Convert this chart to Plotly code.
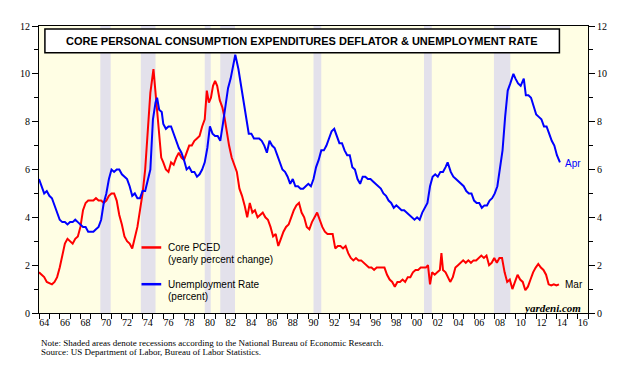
import plotly.graph_objects as go

# ---------------- data ----------------
unemp_t = [1964.0, 1964.25, 1964.5, 1964.75, 1965.0, 1965.25, 1965.5, 1965.75, 1966.0, 1966.25, 1966.5, 1966.75,
           1967.0, 1967.25, 1967.5, 1967.75, 1968.0, 1968.25, 1968.5, 1968.75, 1969.0, 1969.25, 1969.5, 1969.75,
           1970.0, 1970.25, 1970.5, 1970.75, 1971.0, 1971.25, 1971.5, 1971.75, 1972.0, 1972.25, 1972.5, 1972.75,
           1973.0, 1973.25, 1973.5, 1973.75, 1974.0, 1974.25, 1974.5, 1974.75, 1975.0, 1975.25, 1975.4, 1975.6,
           1975.85, 1976.0, 1976.25, 1976.5, 1976.75, 1977.0, 1977.25, 1977.5, 1977.75, 1978.0, 1978.25, 1978.5,
           1978.75, 1979.0, 1979.25, 1979.5, 1979.75, 1980.0, 1980.25, 1980.5, 1980.75, 1981.0, 1981.25, 1981.5,
           1981.75, 1982.0, 1982.25, 1982.5, 1982.75, 1982.95, 1983.25, 1983.5, 1983.75, 1984.0, 1984.25, 1984.5,
           1984.75, 1985.0, 1985.25, 1985.5, 1985.75, 1986.0, 1986.25, 1986.5, 1986.75, 1987.0, 1987.25, 1987.5,
           1987.75, 1988.0, 1988.25, 1988.5, 1988.75, 1989.0, 1989.25, 1989.5, 1989.75, 1990.0, 1990.25, 1990.5,
           1990.75, 1991.0, 1991.25, 1991.5, 1991.75, 1992.0, 1992.25, 1992.5, 1992.75, 1993.0, 1993.25, 1993.5,
           1993.75, 1994.0, 1994.25, 1994.5, 1994.75, 1995.0, 1995.25, 1995.5, 1995.75, 1996.0, 1996.25, 1996.5,
           1996.75, 1997.0, 1997.25, 1997.5, 1997.75, 1998.0, 1998.25, 1998.5, 1998.75, 1999.0, 1999.25, 1999.5,
           1999.75, 2000.0, 2000.25, 2000.5, 2000.75, 2001.0, 2001.25, 2001.5, 2001.75, 2002.0, 2002.25, 2002.5,
           2002.75, 2003.0, 2003.25, 2003.45, 2003.75, 2004.0, 2004.25, 2004.5, 2004.75, 2005.0, 2005.25, 2005.5,
           2005.75, 2006.0, 2006.25, 2006.5, 2006.75, 2007.0, 2007.25, 2007.5, 2007.75, 2008.0, 2008.25, 2008.5,
           2008.75, 2009.0, 2009.25, 2009.5, 2009.8, 2010.0, 2010.25, 2010.5, 2010.8, 2011.0, 2011.25, 2011.5,
           2011.75, 2012.0, 2012.25, 2012.5, 2012.75, 2013.0, 2013.25, 2013.5, 2013.75, 2014.0, 2014.29]
unemp_v = [5.6, 5.3, 5.0, 5.1, 4.9, 4.8, 4.5, 4.2, 3.9, 3.8, 3.8, 3.7,
           3.8, 3.8, 3.9, 3.8, 3.7, 3.6, 3.6, 3.4, 3.4, 3.4, 3.5, 3.6,
           3.9, 4.6, 5.0, 5.6, 6.0, 5.9, 6.0, 6.0, 5.8, 5.7, 5.6, 5.3,
           4.9, 5.0, 4.8, 4.8, 5.1, 5.1, 5.5, 6.0, 8.1, 8.8, 9.0, 8.5,
           8.4, 7.9, 7.7, 7.8, 7.8, 7.5, 7.2, 6.9, 6.7, 6.4, 6.0, 6.1,
           5.9, 5.9, 5.7, 5.8, 6.0, 6.3, 6.9, 7.8, 7.5, 7.4, 7.4, 7.2,
           7.9, 8.6, 9.4, 9.8, 10.4, 10.8, 10.2, 9.5, 8.8, 8.0, 7.5, 7.5,
           7.3, 7.3, 7.3, 7.2, 7.0, 6.7, 7.2, 7.0, 6.9, 6.6, 6.3, 6.0,
           5.9, 5.7, 5.4, 5.6, 5.3, 5.3, 5.2, 5.2, 5.3, 5.4, 5.3, 5.6,
           6.1, 6.4, 6.8, 6.8, 7.0, 7.3, 7.6, 7.7, 7.4, 7.1, 7.1, 6.8,
           6.6, 6.6, 6.1, 6.0, 5.6, 5.4, 5.7, 5.7, 5.6, 5.6, 5.5, 5.4,
           5.3, 5.2, 5.0, 4.9, 4.7, 4.6, 4.4, 4.5, 4.4, 4.3, 4.3, 4.2,
           4.1, 4.0, 3.9, 4.0, 3.9, 4.2, 4.4, 4.6, 5.3, 5.7, 5.8, 5.7,
           5.9, 5.9, 6.1, 6.3, 5.9, 5.7, 5.6, 5.5, 5.4, 5.3, 5.1, 5.0,
           5.0, 4.7, 4.6, 4.6, 4.4, 4.5, 4.5, 4.7, 4.8, 5.0, 5.3, 6.0,
           6.8, 8.2, 9.3, 9.6, 10.0, 9.8, 9.6, 9.5, 9.8, 9.1, 9.1, 9.0,
           8.6, 8.3, 8.2, 8.1, 7.8, 7.8, 7.5, 7.2, 7.0, 6.6, 6.3]

pced_t = [1964.0, 1964.25, 1964.5, 1964.75, 1965.0, 1965.25, 1965.5, 1965.75, 1966.0, 1966.25, 1966.5, 1966.75,
          1967.0, 1967.25, 1967.5, 1967.75, 1968.0, 1968.25, 1968.5, 1968.75, 1969.0, 1969.25, 1969.5, 1969.75,
          1970.0, 1970.25, 1970.5, 1970.75, 1971.0, 1971.25, 1971.5, 1971.75, 1972.0, 1972.25, 1972.5, 1972.75,
          1973.0, 1973.25, 1973.5, 1973.75, 1974.0, 1974.25, 1974.5, 1974.75, 1975.05, 1975.3, 1975.55, 1975.8,
          1976.0, 1976.25, 1976.5, 1976.75, 1977.0, 1977.25, 1977.5, 1977.75, 1978.0, 1978.25, 1978.5, 1978.75,
          1979.0, 1979.25, 1979.5, 1979.75, 1980.0, 1980.2, 1980.4, 1980.6, 1980.8, 1981.0, 1981.2, 1981.45,
          1981.7, 1981.9, 1982.1, 1982.35, 1982.6, 1982.85, 1983.1, 1983.35, 1983.6, 1983.85, 1984.1, 1984.35,
          1984.6, 1984.85, 1985.1, 1985.35, 1985.6, 1985.85, 1986.1, 1986.35, 1986.6, 1986.85, 1987.1, 1987.35,
          1987.6, 1987.85, 1988.1, 1988.35, 1988.6, 1988.85, 1989.1, 1989.35, 1989.6, 1989.85, 1990.1, 1990.35,
          1990.6, 1990.85, 1991.1, 1991.35, 1991.6, 1991.85, 1992.1, 1992.35, 1992.6, 1992.85, 1993.1, 1993.35,
          1993.6, 1993.85, 1994.1, 1994.35, 1994.6, 1994.85, 1995.1, 1995.35, 1995.6, 1995.85, 1996.1, 1996.35,
          1996.6, 1996.85, 1997.1, 1997.35, 1997.6, 1997.85, 1998.1, 1998.35, 1998.6, 1998.85, 1999.1, 1999.35,
          1999.6, 1999.85, 2000.1, 2000.35, 2000.6, 2000.85, 2001.1, 2001.35, 2001.55, 2001.75, 2001.95, 2002.2,
          2002.45, 2002.7, 2002.85, 2003.0, 2003.25, 2003.5, 2003.7, 2003.95, 2004.2, 2004.45, 2004.7, 2004.95,
          2005.2, 2005.45, 2005.7, 2005.95, 2006.2, 2006.45, 2006.7, 2006.95, 2007.2, 2007.45, 2007.7, 2007.95,
          2008.2, 2008.45, 2008.7, 2008.95, 2009.2, 2009.45, 2009.7, 2009.95, 2010.2, 2010.45, 2010.7, 2010.95,
          2011.2, 2011.45, 2011.7, 2011.95, 2012.2, 2012.45, 2012.7, 2012.95, 2013.2, 2013.45, 2013.7, 2013.95,
          2014.2]
pced_v = [1.7, 1.6, 1.5, 1.3, 1.25, 1.2, 1.3, 1.5, 1.9, 2.4, 2.9, 3.1,
          3.0, 2.9, 3.1, 3.2, 3.6, 4.3, 4.6, 4.7, 4.7, 4.7, 4.8, 4.7,
          4.7, 4.6, 4.7, 4.9, 5.0, 5.0, 4.7, 4.1, 3.7, 3.2, 3.0, 2.9,
          2.7, 3.1, 3.6, 4.3, 5.0, 6.0, 7.5, 9.2, 10.2, 9.0, 7.6, 6.5,
          6.3, 6.0, 5.9, 6.3, 6.2, 6.5, 6.7, 6.5, 6.4, 6.7, 7.0, 7.0,
          7.2, 7.3, 7.4, 7.8, 8.1, 9.3, 8.8, 9.0, 9.5, 9.7, 9.5, 8.9,
          8.6, 8.2, 7.6, 7.0, 6.5, 6.2, 5.9, 5.2, 4.9, 4.5, 4.0, 4.6,
          4.2, 4.3, 4.0, 4.1, 4.2, 4.0, 3.9, 3.6, 3.2, 3.3, 2.8, 3.1,
          3.4, 3.6, 3.7, 4.0, 4.3, 4.5, 4.6, 4.2, 4.0, 3.6, 3.5, 3.8,
          4.0, 4.2, 3.9, 3.6, 3.4, 3.3, 3.3, 3.3, 2.7, 2.8, 2.8, 2.7,
          2.8, 2.5, 2.3, 2.2, 2.3, 2.2, 2.2, 2.1, 2.0, 1.9, 1.9, 1.8,
          1.9, 1.9, 1.9, 1.9, 1.6, 1.4, 1.3, 1.1, 1.3, 1.3, 1.4, 1.3,
          1.5, 1.5, 1.7, 1.8, 1.8, 1.9, 1.9, 1.9, 2.0, 1.2, 1.7, 1.6,
          1.7, 1.8, 2.5, 1.8, 1.7, 1.5, 1.3, 1.5, 1.9, 2.0, 2.1, 2.2,
          2.1, 2.2, 2.1, 2.2, 2.2, 2.3, 2.4, 2.3, 2.4, 2.0, 2.1, 2.3,
          2.1, 2.3, 2.3, 1.7, 1.3, 1.4, 1.0, 1.3, 1.6, 1.4, 1.3, 0.95,
          1.1, 1.4, 1.7, 1.9, 2.05, 1.9, 1.8, 1.6, 1.2, 1.15, 1.2, 1.15,
          1.2]

rec_start = [1969.92, 1973.83, 1980.0, 1981.5, 1990.5, 2001.17, 2007.92]
rec_end = [1970.92, 1975.25, 1980.58, 1982.92, 1991.25, 2001.92, 2009.5]

year_ticks = list(range(1964, 2018))
label_vals = [y + 0.5 for y in range(1964, 2017, 2)]
label_text = ["%02d" % (y % 100) for y in range(1964, 2017, 2)]
y_ticks = [0, 2, 4, 6, 8, 10, 12]

RED = "#FF0000"
BLUE = "#0000FF"
SERIF = "Liberation Serif"
SANS = "Liberation Sans"

# page is rendered with an 8px body margin; plot area in page pixels: x 31..588, y 24..313
OFF = 8
W, H = 640 - OFF, 369 - OFF

fig = go.Figure()
fig.add_trace(go.Scatter(x=pced_t, y=pced_v, mode="lines", line=dict(color=RED, width=2),
                         showlegend=False, hoverinfo="skip"))
fig.add_trace(go.Scatter(x=unemp_t, y=unemp_v, mode="lines", line=dict(color=BLUE, width=2),
                         showlegend=False, hoverinfo="skip", yaxis="y2"))

for s, e in zip(rec_start, rec_end):
    fig.add_shape(type="rect", xref="x", yref="paper", x0=s, x1=e, y0=0, y1=1,
                  fillcolor="#E3E1EB", line_width=0, layer="below")


def px_x(p):
    return (p - 31) / 557.0


def px_y(p):
    return (313 - p) / 289.0


# title box
fig.add_shape(type="rect", xref="paper", yref="paper", x0=px_x(37), x1=px_x(559), y0=px_y(51), y1=px_y(27),
              fillcolor="white", line=dict(color="black", width=1.5), layer="above")
fig.add_annotation(xref="paper", yref="paper", x=px_x(298), y=px_y(39), xanchor="center", yanchor="middle",
                   text="<b>CORE PERSONAL CONSUMPTION EXPENDITURES DEFLATOR &amp; UNEMPLOYMENT RATE</b>",
                   showarrow=False, font=dict(family=SANS, size=11, color="black"))

# custom legend
for col, yy, l1, l2 in [(RED, 247, "Core PCED", "(yearly percent change)"),
                        (BLUE, 284, "Unemployment Rate", "(percent)")]:
    fig.add_shape(type="line", xref="paper", yref="paper", x0=px_x(135), x1=px_x(155),
                  y0=px_y(yy), y1=px_y(yy), line=dict(color=col, width=2.5), layer="above")
    fig.add_annotation(xref="paper", yref="paper", x=px_x(160), y=px_y(yy), xanchor="left", yanchor="middle",
                       text=l1, showarrow=False, font=dict(family=SANS, size=10, color="black"))
    fig.add_annotation(xref="paper", yref="paper", x=px_x(160), y=px_y(yy + 12), xanchor="left",
                       yanchor="middle", text=l2, showarrow=False, font=dict(family=SANS, size=10, color="black"))

# end labels
fig.add_annotation(x=unemp_t[-1], y=unemp_v[-1], yref="y2", xanchor="left", yanchor="middle", xshift=3, yshift=-1,
                   text="Apr", showarrow=False, font=dict(family=SANS, size=10, color=BLUE))
fig.add_annotation(x=pced_t[-1], y=pced_v[-1], xanchor="left", yanchor="middle", xshift=4,
                   text="Mar", showarrow=False, font=dict(family=SANS, size=10, color="black"))

fig.add_annotation(xref="paper", yref="paper", x=px_x(583), y=px_y(308), xanchor="right", yanchor="middle",
                   text="<b><i>yardeni.com</i></b>", showarrow=False,
                   font=dict(family=SERIF, size=11, color="black"))

fig.add_annotation(xref="paper", yref="paper", x=0, y=px_y(343), xanchor="left", yanchor="middle",
                   text="Note: Shaded areas denote recessions according to the National Bureau of Economic Research.",
                   showarrow=False, font=dict(family=SERIF, size=9, color="black"))
fig.add_annotation(xref="paper", yref="paper", x=0, y=px_y(352), xanchor="left", yanchor="middle",
                   text="Source: US Department of Labor, Bureau of Labor Statistics.",
                   showarrow=False, font=dict(family=SERIF, size=9, color="black"))

axis_font = dict(family=SERIF, size=10, color="black")
fig.update_layout(
    width=W, height=H,
    margin=dict(l=31 - OFF, r=640 - 588, t=24 - OFF, b=369 - 313),
    paper_bgcolor="white",
    plot_bgcolor="#FFFEE4",
    xaxis=dict(range=[1964, 2017], tickmode="array", tickvals=label_vals, ticktext=label_text,
               ticks="", showgrid=False, zeroline=False, showline=True, linecolor="black", linewidth=1,
               mirror=True, tickfont=axis_font,
               minor=dict(tickmode="array", tickvals=year_ticks, ticks="outside", ticklen=5,
                          tickcolor="black", showgrid=False)),
    yaxis=dict(range=[0, 12], tickmode="array", tickvals=y_ticks, ticks="outside", ticklen=6,
               tickcolor="black", showgrid=False, zeroline=False, showline=True, linecolor="black",
               linewidth=1, tickfont=axis_font,
               minor=dict(dtick=1, ticks="outside", ticklen=4, tickcolor="black", showgrid=False)),
    yaxis2=dict(range=[0, 12], overlaying="y", side="right", tickmode="array", tickvals=y_ticks,
                ticks="outside", ticklen=6, tickcolor="black", showgrid=False, zeroline=False,
                showline=True, linecolor="black", linewidth=1, tickfont=axis_font,
                minor=dict(dtick=1, ticks="outside", ticklen=4, tickcolor="black", showgrid=False)),
)

fig.write_html("out.html")
